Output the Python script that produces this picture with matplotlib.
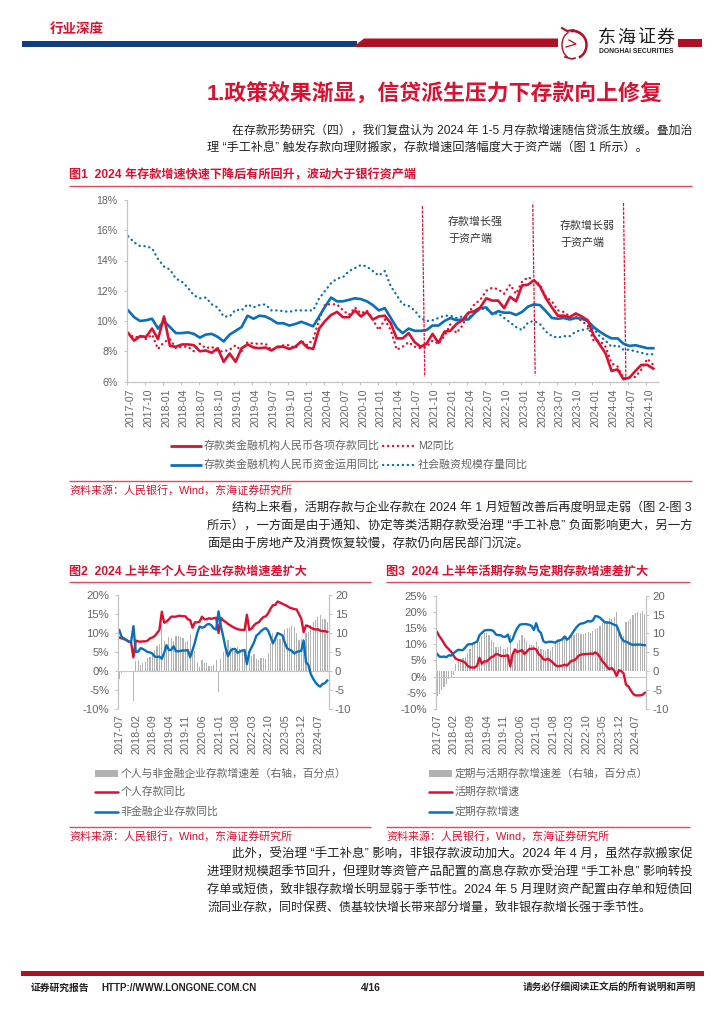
import numpy as np
import matplotlib
matplotlib.use('Agg')
import matplotlib.pyplot as plt
from matplotlib.patches import Polygon, Rectangle, Arc

FONT = ['Liberation Sans', 'Noto Sans CJK SC', 'DejaVu Sans']
plt.rcParams['font.family'] = FONT
plt.rcParams['axes.unicode_minus'] = False

W, H = 724, 1024
RED = '#DA1130'
LINE_RED = '#E4485C'
BLUE = '#0A6FBA'
DARK_RED = '#AE1024'
NAVY = '#0F3F80'
GREY_TXT = '#646464'
AX_GREY = '#C4C4C4'
BAR_GREY = '#B2B2B2'
DOTS = (0, (0.1, 2.0))

months = [f'{y}-{m:02d}' for y in range(2017, 2025) for m in range(1, 13)][6:95]

deposit = [9.2, 8.7, 9.0, 8.95, 9.5, 8.8, 10.3, 8.35, 8.3, 8.45, 8.45, 8.4, 8.0, 8.05, 7.9, 8.2, 7.3, 7.85, 7.3,
           8.2, 8.45, 8.25, 8.2, 8.25, 8.05, 8.3, 8.3, 8.15, 8.3, 8.65, 8.25, 8.15, 9.5, 10.0, 10.4, 10.6, 10.25, 10.25, 10.7,
           10.3, 10.6, 10.1, 10.3, 10.35, 9.85, 8.85, 8.85, 9.2, 8.6, 8.3, 8.5, 9.15, 8.55, 9.3, 9.35, 9.8, 10.05, 10.55, 10.65,
           10.9, 11.5, 11.35, 11.35, 10.85, 11.6, 11.3, 12.35, 12.4, 12.7, 12.3, 11.5, 10.9, 10.35, 10.35, 10.25, 10.5, 10.3,
           10.05, 9.05, 8.45, 7.85, 6.7, 6.8, 6.15, 6.25, 6.7, 7.1, 7.1, 6.85]
m2 = [9.2, 8.9, 9.0, 8.8, 9.1, 8.15, 8.6, 8.8, 8.2, 8.3, 8.3, 8.0, 8.5, 8.2, 8.3, 8.0, 8.0, 8.1, 8.4, 8.0, 8.6, 8.5, 8.5,
      8.5, 8.1, 8.2, 8.4, 8.4, 8.2, 8.7, 8.4, 8.8, 10.1, 11.1, 11.1, 11.1, 10.7, 10.4, 10.9, 10.5, 10.7, 10.1, 9.4, 10.1,
      9.4, 8.1, 8.3, 8.6, 8.3, 8.2, 8.3, 8.7, 8.5, 9.0, 9.8, 9.2, 9.7, 10.5, 11.1, 11.4, 12.0, 12.2, 12.1, 11.8, 12.4, 11.8,
      12.6, 12.9, 12.7, 12.4, 11.6, 11.3, 10.7, 10.6, 10.3, 10.3, 10.0, 9.7, 8.7, 8.7, 8.3, 7.2, 7.0, 6.2, 6.3, 6.3, 6.8,
      7.5, 7.1]
assets = [10.7, 10.25, 10.0, 10.05, 10.15, 9.5, 10.0, 9.6, 9.2, 9.2, 9.25, 9.15, 8.9, 9.1, 9.15, 8.95, 8.65, 9.1, 9.35, 9.6,
          10.35, 10.15, 10.35, 10.3, 10.1, 9.85, 9.85, 9.7, 9.8, 9.95, 9.8, 9.65, 10.3, 10.95, 11.55, 11.3, 11.3, 11.4, 11.5,
          11.45, 11.3, 11.05, 10.7, 10.85, 10.2, 9.55, 9.2, 9.5, 9.35, 9.35, 9.4, 9.7, 9.7, 10.0, 10.2, 10.05, 10.1, 10.1, 10.5,
          10.85, 10.9, 10.45, 10.65, 10.55, 10.55, 10.4, 10.6, 10.95, 11.1, 11.05, 10.65, 10.2, 10.15, 10.2, 10.1, 10.2, 10.15,
          10.0, 9.6, 9.3, 9.05, 8.85, 8.85, 8.5, 8.35, 8.4, 8.3, 8.2, 8.2]
tsf = [15.6, 15.2, 14.95, 14.95, 14.8, 14.1, 13.6, 13.4, 12.8, 12.6, 12.2, 11.7, 11.5, 11.55, 11.1, 10.9, 10.3, 10.3, 10.75,
       10.7, 11.1, 10.9, 11.05, 11.1, 10.7, 10.7, 10.65, 10.6, 10.7, 10.7, 10.7, 10.7, 11.5, 12.0, 12.5, 12.8, 12.9, 13.3, 13.5,
       13.7, 13.6, 13.3, 13.0, 13.3, 12.3, 11.7, 11.1, 11.0, 10.7, 10.2, 10.0, 10.05, 10.2, 10.35, 10.35, 10.2, 10.3, 10.2, 10.5,
       10.8, 10.8, 10.5, 10.5, 10.2, 9.9, 9.6, 9.4, 9.9, 10.0, 9.8, 9.3, 9.0, 8.9, 9.0, 9.0, 9.3, 9.4, 9.5, 9.5, 9.0, 8.7, 8.3,
       8.4, 8.1, 8.1, 8.0, 7.9, 7.8, 7.8]

personal = [8.8, 8.6, 8.4, 8.1, 7.7, 7.5, 3.6, 8.0, 7.8, 7.7, 7.8, 7.8, 8.0, 8.6, 8.8, 9.2, 10.0, 10.8, 15.6, 12.7, 13.0, 13.6,
            14.3, 14.3, 14.3, 14.5, 14.5, 14.4, 14.4, 13.6, 13.4, 11.4, 12.8, 12.8, 13.0, 14.3, 13.6, 13.6, 13.9, 13.7, 13.9,
            14.0, 10.0, 14.0, 13.3, 12.9, 12.4, 12.0, 11.6, 11.3, 11.0, 10.9, 10.8, 10.8, 14.8, 10.8, 11.2, 12.0, 12.6, 12.8,
            13.6, 14.2, 14.4, 15.2, 16.4, 17.3, 17.4, 18.3, 18.0, 17.7, 17.4, 17.1, 16.7, 16.5, 16.3, 16.2, 15.0, 13.8, 10.2,
            12.0, 11.8, 11.4, 11.1, 10.9, 11.0, 10.6, 10.5, 10.5, 10.3]
corporate = [10.8, 9.0, 8.6, 8.2, 7.8, 7.6, 11.8, 5.0, 5.1, 6.0, 5.8, 5.4, 5.0, 4.9, 4.6, 3.8, 3.7, 3.8, 3.2, 4.8, 6.8, 5.5, 5.6,
             6.5, 5.2, 5.2, 5.3, 5.4, 5.4, 5.5, 3.6, 5.5, 7.5, 10.0, 11.7, 11.4, 11.6, 12.2, 12.4, 12.0, 11.2, 10.9, 15.7, 11.8,
             9.0, 6.0, 3.9, 5.2, 5.8, 5.8, 4.8, 5.1, 5.4, 5.5, 1.8, 5.0, 6.3, 7.5, 9.3, 9.8, 10.5, 11.0, 11.3, 10.6, 9.0, 7.3, 8.5,
             10.0, 9.7, 9.4, 7.5, 6.0, 5.6, 5.3, 4.6, 5.0, 5.2, 5.3, 8.0, 2.3, 1.6, -0.8, -2.0, -3.0, -3.7, -4.1, -3.4, -3.2, -2.5]
gap_pc = [-2.2, -0.4, -0.3, -0.3, -0.3, -0.3, -8.0, 2.7, 2.8, 1.7, 2.0, 2.3, 3.5, 3.7, 4.2, 5.5, 6.5, 7.2, 12.4, 8.0, 6.8, 9.0, 8.7,
          7.8, 9.2, 9.2, 9.0, 8.8, 7.6, 7.8, 9.8, 5.9, 5.3, 2.0, 1.0, 2.8, 2.0, 2.0, 1.4, 1.2, 1.7, 3.0, -5.5, 3.1, 5.0, 7.2, 8.2, 6.3,
          6.0, 5.3, 6.2, 5.8, 5.5, 5.3, 13.0, 5.8, 4.0, 4.5, 3.2, 3.0, 3.4, 3.3, 3.1, 4.7, 7.5, 10.0, 9.0, 8.3, 8.4, 8.7, 11.0, 11.2,
          11.2, 11.8, 11.5, 9.9, 8.2, 8.5, 8.4, 10.0, 10.2, 12.2, 13.0, 13.5, 14.2, 14.8, 13.8, 13.8, 13.0]

demand = [13.8, 12.5, 11.5, 10.3, 9.2, 8.5, 7.7, 6.5, 5.5, 5.2, 5.0, 4.7, 4.3, 3.3, 2.9, 2.8, 2.8, 3.4, 5.8, 4.0, 4.7, 4.7, 5.3, 6.0,
          6.3, 7.0, 6.8, 6.4, 6.4, 6.4, 6.6, 3.2, 6.8, 8.4, 7.6, 7.9, 8.2, 7.0, 7.7, 8.5, 8.6, 8.7, 8.4, 7.0, 6.4, 5.4, 5.2, 5.5, 5.0,
          4.4, 3.6, 3.2, 3.3, 3.4, 3.7, 3.4, 4.2, 4.9, 5.0, 5.6, 6.5, 6.8, 6.9, 7.0, 7.0, 7.1, 7.0, 7.5, 7.0, 6.0, 4.7, 4.0, 3.0, 2.3,
          2.6, 1.9, 0.2, 2.0, 1.7, 1.0, -2.5, -3.0, -4.2, -5.3, -5.8, -5.8, -5.8, -5.6, -5.0]
fixed = [7.1, 6.2, 6.1, 6.2, 6.0, 6.6, 6.5, 7.2, 7.8, 8.3, 8.2, 8.2, 9.0, 9.9, 10.0, 10.1, 10.5, 10.8, 12.8, 13.5, 14.2, 14.4, 14.4,
         14.4, 14.0, 13.0, 12.8, 12.8, 12.3, 12.3, 13.0, 10.7, 11.5, 13.5, 15.0, 16.0, 16.2, 16.2, 16.2, 16.0, 15.7, 14.4, 16.5, 14.2,
         13.5, 11.0, 10.5, 10.7, 10.8, 10.7, 10.5, 11.0, 11.2, 11.5, 12.4, 11.4, 12.0, 13.0, 14.2, 15.2, 16.0, 16.4, 16.5, 16.8, 17.2,
         17.0, 17.4, 18.7, 18.6, 18.2, 17.5, 16.8, 16.7, 16.7, 16.4, 16.0, 15.8, 14.0, 12.0, 11.0, 10.8, 10.5, 10.0, 9.8, 9.9, 9.9, 9.9,
         9.8, 9.7]
gap_fd = [-6.5, -6.0, -5.0, -4.3, -3.3, -2.0, -1.5, -1.0, 2.0, 2.7, 3.0, 3.5, 3.8, 4.8, 6.0, 7.0, 7.5, 7.7, 7.8, 9.3, 10.0, 10.2, 9.6,
          8.3, 7.8, 6.5, 6.3, 6.7, 6.0, 5.9, 6.4, 9.5, 5.0, 5.0, 7.4, 8.2, 9.6, 8.7, 8.0, 7.3, 7.0, 7.0, 7.7, 6.6, 5.8, 5.6, 5.3, 5.8, 5.7,
          6.3, 8.0, 8.6, 8.6, 8.8, 9.0, 9.4, 9.6, 9.4, 9.6, 10.0, 10.2, 9.9, 9.9, 10.2, 10.5, 10.2, 10.6, 11.2, 11.4, 11.9, 12.9, 13.2, 13.4,
          14.2, 13.8, 14.4, 15.8, 10.4, 9.6, 9.4, 13.0, 13.2, 13.8, 15.0, 15.5, 15.8, 15.5, 15.9, 15.1]

fig = plt.figure(figsize=(W / 100, H / 100), dpi=100, facecolor='white')
page = fig.add_axes([0, 0, 1, 1], zorder=0)
page.set_xlim(0, W)
page.set_ylim(H, 0)
page.axis('off')
renderer = fig.canvas.get_renderer()


def put(s, x0, y, x1=None, size=8.0, color='#222222', weight='normal', ha='left'):
    """Write text; if x1 is given the font size is tuned so the text spans x0..x1."""
    t = page.text(x0, y, s, fontsize=size, color=color, fontweight=weight, ha=ha, va='center')
    if x1 is not None:
        w = t.get_window_extent(renderer).width
        t.set_fontsize(size * (x1 - x0) / w)
    return t


def axes_px(l, t, r, b, **kw):
    return fig.add_axes([l / W, 1 - b / H, (r - l) / W, (b - t) / H], **kw)


# ---- header
page.add_patch(Rectangle((22, 41), 335, 6, color=NAVY, lw=0))
page.add_patch(Polygon([(353, 47), (364, 38.5), (558, 38.5), (558, 47)], color=DARK_RED, lw=0))
page.add_patch(Rectangle((678, 38.5), 24, 8.5, color=DARK_RED, lw=0))
put('行业深度', 50, 29, 104, size=10, color=RED, weight='bold')
# logo ornament
page.add_patch(Arc((573, 45), 27, 28, theta1=-100, theta2=65, color=DARK_RED, lw=1.8))
page.add_patch(Arc((572, 45), 20, 27, theta1=110, theta2=255, color=DARK_RED, lw=1.0))
page.plot([562, 567, 573, 578, 581], [28, 31, 30, 32, 34], color=DARK_RED, lw=1.5)
page.plot([566, 576, 569], [47, 44, 40], color=DARK_RED, lw=0.9)
page.plot([565, 572, 575], [57, 59, 58], color=DARK_RED, lw=1.2)
for ch, cx in zip('东海证券', [598, 617.5, 637, 656]):
    put(ch, cx, 38, cx + 18, size=13, color='#1A1A1A')
put('DONGHAI SECURITIES', 599, 51.5, 674, size=5, color='#222222', weight='bold')

# ---- body text
put('1.政策效果渐显，信贷派生压力下存款向上修复', 207, 95, 664, size=15, color=RED, weight='bold')
put('在存款形势研究（四），我们复盘认为 2024 年 1-5 月存款增速随信贷派生放缓。叠加治', 232, 130.5, 692)
put('理 “手工补息” 触发存款向理财搬家，存款增速回落幅度大于资产端（图 1 所示）。', 207, 148.5, 648)
put('结构上来看，活期存款与企业存款在 2024 年 1 月短暂改善后再度明显走弱（图 2-图 3', 232, 508, 692)
put('所示），一方面是由于通知、协定等类活期存款受治理 “手工补息” 负面影响更大，另一方', 207, 526.5, 692)
put('面是由于房地产及消费恢复较慢，存款仍向居民部门沉淀。', 207, 545, 529)
put('此外，受治理 “手工补息” 影响，非银存款波动加大。2024 年 4 月，虽然存款搬家促', 232, 854, 692)
put('进理财规模超季节回升，但理财等资管产品配置的高息存款亦受治理 “手工补息” 影响转投', 207, 872.5, 692)
put('存单或短债，致非银存款增长明显弱于季节性。2024 年 5 月理财资产配置由存单和短债回', 207, 890.5, 692)
put('流同业存款，同时保费、债基较快增长带来部分增量，致非银存款增长强于季节性。', 207, 909, 653)

# ---- figure titles and rules
put('图1  2024 年存款增速快速下降后有所回升，波动大于银行资产端', 69, 175, 417, size=8, color=RED, weight='bold')
put('图2  2024 上半年个人与企业存款增速差扩大', 69, 572, 307, size=8, color=RED, weight='bold')
put('图3  2024 上半年活期存款与定期存款增速差扩大', 386, 572, 649, size=8, color=RED, weight='bold')
for x0, x1, y in [(69, 692, 185.5), (69, 692, 481), (69, 371, 581.5), (386, 690, 581.5), (69, 371, 827), (386, 690, 827)]:
    page.plot([x0, x1], [y, y], color=LINE_RED, lw=1.0, solid_capstyle='butt')
SOURCE = '资料来源：人民银行，Wind，东海证券研究所'
put(SOURCE, 69, 490, 291, size=7.5, color=RED)
put(SOURCE, 69, 836.5, 291, size=7.5, color=RED)
put(SOURCE, 386, 836.5, 609, size=7.5, color=RED)

# ---- footer
page.add_patch(Rectangle((21, 971), 683, 5, color=DARK_RED, lw=0))
put('证券研究报告', 31, 988, 90, size=7, color='#222222', weight='bold')
put('HTTP://WWW.LONGONE.COM.CN', 101, 988, 256, size=7, color='#222222', weight='bold')
put('4/16', 361, 988, 381, size=7, color='#222222', weight='bold')
put('请务必仔细阅读正文后的所有说明和声明', 523, 988, 698, size=7, color='#222222', weight='bold')

# ---- figure 1
x = np.arange(len(months))
ax1 = axes_px(127, 200, 657.5, 381.5, zorder=2)
ax1.patch.set_alpha(0)
ax1.set_xlim(-0.2, 88.7)
ax1.set_ylim(6, 18)
ax1.plot(x, tsf, color=BLUE, lw=1.7, ls=DOTS, dash_capstyle='round')
ax1.plot(x, m2, color=RED, lw=1.7, ls=DOTS, dash_capstyle='round')
ax1.plot(x, assets, color=BLUE, lw=1.9)
ax1.plot(x, deposit, color=RED, lw=1.9)
ax1.set_yticks(range(6, 20, 2))
ax1.set_yticklabels([f'{v}%' for v in range(6, 20, 2)])
ax1.set_xticks(x[::3] - 0.2)
ax1.set_xticklabels([])
ax1.set_xticks(x[::3] + 0.35, months[::3], rotation=90, minor=True)
ax1.tick_params(axis='y', labelsize=7.6, colors=GREY_TXT, length=2, width=0.7, color=AX_GREY, pad=5)
ax1.tick_params(axis='x', which='major', length=2, width=0.7, color=AX_GREY)
ax1.tick_params(axis='x', which='minor', labelsize=7.6, labelcolor=GREY_TXT, length=0, pad=5)
for side in ('top', 'right'):
    ax1.spines[side].set_visible(False)
for side in ('left', 'bottom'):
    ax1.spines[side].set_color(AX_GREY)
    ax1.spines[side].set_linewidth(0.9)
# period dividers (month index, % level)
dividers = [((49.3, 49.7), (17.6, 6.3)), ((67.8, 68.2), (17.7, 6.4)), ((83.0, 83.4), (17.8, 6.3))]
for dx, dy in dividers:
    ax1.plot(dx, dy, color=RED, lw=0.9, ls=(0, (2.5, 1)))
put('存款增长强', 448, 222, 503, size=7.8, color='#333333')
put('于资产端', 448, 239, 492, size=7.8, color='#333333')
put('存款增长弱', 560, 226, 615, size=7.8, color='#333333')
put('于资产端', 560, 243, 604, size=7.8, color='#333333')

# figure 1 legend
page.plot([170, 202], [445.5, 445.5], color=RED, lw=2, solid_capstyle='butt')
page.plot([170, 202], [465, 465], color=BLUE, lw=2, solid_capstyle='butt')
page.plot([383, 414], [445.5, 445.5], color=RED, lw=1.7, ls=DOTS, dash_capstyle='round')
page.plot([383, 414], [465, 465], color=BLUE, lw=1.7, ls=DOTS, dash_capstyle='round')
put('存款类金融机构人民币各项存款同比', 204, 445.5, 379, size=7.5, color=GREY_TXT)
put('存款类金融机构人民币资金运用同比', 204, 465, 379, size=7.5, color=GREY_TXT)
put('M2同比', 418, 445.5, 454, size=7.5, color=GREY_TXT)
put('社会融资规模存量同比', 418, 465, 527, size=7.5, color=GREY_TXT)


def dual(l, r, top, bottom, bars, red, blue, lmin, lmax):
    ax = axes_px(l, top, r, bottom, zorder=3)
    axr = ax.twinx()
    ax.set_zorder(axr.get_zorder() + 1)
    ax.patch.set_alpha(0)
    ax.set_xlim(-0.4, 88.6)
    ax.set_ylim(lmin, lmax)
    axr.set_ylim(-10, 20)
    axr.bar(x, bars, width=0.5, color=BAR_GREY, lw=0)
    ax.plot(x, red, color=RED, lw=1.7)
    ax.plot(x, blue, color=BLUE, lw=1.7)
    ticks = list(range(lmin, lmax + 1, 5))
    ax.set_yticks(ticks)
    ax.set_yticklabels([f'{v}%' for v in ticks])
    axr.set_yticks(range(-10, 25, 5))
    ax.set_xticks(x[::7] + 0.2)
    ax.set_xticklabels(months[::7], rotation=90)
    ax.tick_params(axis='y', labelsize=8.2, colors=GREY_TXT, length=2, width=0.7, color=AX_GREY, pad=4.5)
    axr.tick_params(axis='y', labelsize=8.2, colors=GREY_TXT, length=2, width=0.7, color=AX_GREY, pad=2.5)
    ax.tick_params(axis='x', labelsize=7.8, colors=GREY_TXT, length=0, pad=4)
    axr.tick_params(axis='x', length=0)
    for a in (ax, axr):
        a.spines['top'].set_visible(False)
        a.spines['bottom'].set_visible(False)
        a.spines['left'].set_color(AX_GREY)
        a.spines['right'].set_color(AX_GREY)
    ax.axhline(0, color=AX_GREY, lw=0.8, zorder=1)
    return ax


dual(118.3, 328.7, 595, 709, gap_pc, personal, corporate, -10, 20)
dual(436, 646.3, 595.7, 709, gap_fd, demand, fixed, -10, 25)

# figure 2 and 3 legends
for x0, x1 in [(95, 118), (429, 452)]:
    page.add_patch(Rectangle((x0, 770), x1 - x0, 6.5, color=BAR_GREY, lw=0))
    page.plot([x0, x1], [792, 792], color=RED, lw=1.8, solid_capstyle='round')
    page.plot([x0, x1], [812, 812], color=BLUE, lw=1.8, solid_capstyle='round')
put('个人与非金融企业存款增速差（右轴，百分点）', 120.5, 773.5, 347, size=7.8, color=GREY_TXT)
put('个人存款同比', 120.5, 792, 186, size=7.8, color=GREY_TXT)
put('非金融企业存款同比', 120.5, 812, 219, size=7.8, color=GREY_TXT)
put('定期与活期存款增速差（右轴，百分点）', 454.5, 773.5, 648, size=7.8, color=GREY_TXT)
put('活期存款增速', 454.5, 792, 520, size=7.8, color=GREY_TXT)
put('定期存款增速', 454.5, 812, 520, size=7.8, color=GREY_TXT)

fig.savefig('out.png', dpi=100, facecolor='white')
